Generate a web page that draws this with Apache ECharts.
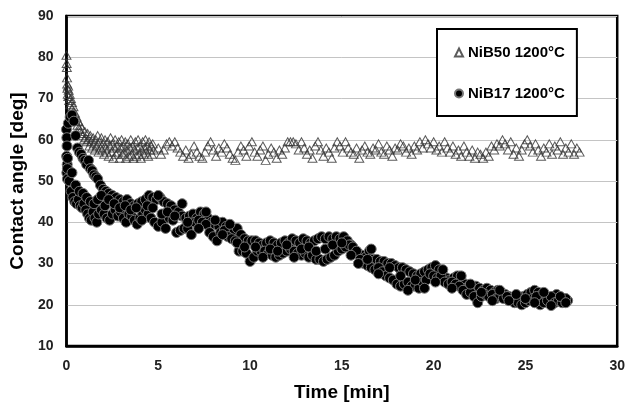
<!DOCTYPE html>
<html>
<head>
<meta charset="utf-8">
<script src="https://cdn.jsdelivr.net/npm/echarts@6/dist/echarts.min.js"></script>
<style>
html,body{margin:0;padding:0;background:#fff;}
#chart{width:628px;height:407px;}
</style>
</head>
<body>
<div id="chart"></div>
<script>
// Series names
const seriesNames = ['NiB50 1200°C', 'NiB17 1200°C'];

// Axis settings
const xAxisTitle = 'Time [min]';
const yAxisTitle = 'Contact angle [deg]';
const xRange = [0, 30, 5];
const yRange = [10, 90, 10];

// NiB50 1200°C: [time (min), contact angle (deg)]
const nib50 = [
[0.00,80.5],[0.01,78.5],[0.02,77.5],[0.03,75],[0.04,73.5],[0.05,72.5],[0.07,71],[0.09,73],[0.10,70.5],[0.12,72],
[0.15,69.5],[0.18,71],[0.20,68.5],[0.24,70],[0.28,67.5],[0.30,69],[0.34,66.5],[0.38,68],[0.42,65.5],[0.46,66.5],
[0.50,64.5],[0.55,65.5],[0.60,63.5],[0.65,64.5],[0.70,62.5],[0.75,63.5],[0.80,61.5],[0.85,62.8],[0.90,61],[0.95,60],
[1.00,62],[1.05,60.5],[1.10,59.5],[1.15,61.5],[1.20,60],[1.25,58.5],[1.30,61],[1.35,59.5],[1.40,58],[1.45,60.5],
[1.50,59],[1.55,57.5],[1.60,60],[1.65,58.5],[1.70,61],[1.75,57],[1.80,59.5],[1.85,58],[1.90,60.5],[1.95,57.5],
[2.00,59],[2.05,56.5],[2.10,60],[2.15,58],[2.20,57],[2.25,59.5],[2.30,56],[2.35,58.5],[2.40,60.5],[2.45,57],
[2.50,59],[2.55,55.5],[2.60,58],[2.65,60],[2.70,56.5],[2.75,58.5],[2.80,57],[2.85,59.5],[2.90,55.5],[2.95,58],
[3.00,60],[3.05,56.5],[3.10,58.5],[3.15,57],[3.20,59.5],[3.25,55.5],[3.30,57.5],[3.35,59],[3.40,56],[3.45,58],
[3.50,60],[3.55,56.5],[3.60,58.5],[3.65,55.5],[3.70,57.5],[3.75,59.5],[3.80,56],[3.85,58],[3.90,60],[3.95,56.5],
[4.00,58.5],[4.05,55.5],[4.10,57.5],[4.15,59.5],[4.20,56.5],[4.25,58],[4.30,60],[4.35,57],[4.40,58.5],[4.45,56],
[4.50,59.5],[4.55,57.5],[4.60,58.5],[4.65,56.5],[4.70,59],[4.75,57.5],
[5.00,58],[5.15,56.5],[5.30,57.5],[5.45,59],[5.60,59.5],[5.75,58.5],[5.90,59.5],[6.05,58],[6.20,57],[6.35,56],
[6.50,57.5],[6.65,55.5],[6.80,56.5],[6.95,58.5],[7.10,57],[7.25,56],[7.40,55.5],[7.55,57],[7.70,58.5],[7.85,59.5],
[8.00,57.5],[8.15,56],[8.30,58],[8.45,57],[8.60,59],[8.75,58],[8.90,56.5],[9.05,55.5],[9.20,55],[9.35,57],
[9.50,58.5],[9.65,57.5],[9.80,56],[9.95,58.5],[10.10,59.5],[10.25,57],[10.40,56],[10.55,57.5],[10.70,58.5],[10.85,55],
[11.00,56.5],[11.15,58],[11.30,57],[11.45,55.5],[11.60,57.5],[11.75,56.5],[11.90,58],[12.05,59.5],[12.20,59.5],[12.35,59.5],
[12.50,59],[12.65,57.5],[12.80,59.5],[12.95,58],[13.10,56.5],[13.25,57.5],[13.40,55.5],[13.55,58.5],[13.70,59.5],[13.85,57.5],
[14.00,56],[14.15,58],[14.30,57],[14.45,55.5],[14.60,58],[14.75,59.5],[14.90,58.5],[15.05,57],[15.20,59.5],[15.35,58],
[15.50,57],[15.65,56.5],[15.80,58],[15.95,55.5],[16.10,57.5],[16.25,58.5],[16.40,57],[16.55,56.5],[16.70,58],[16.85,57.5],
[17.00,59],[17.15,57],[17.30,56.5],[17.45,58.5],[17.60,57.5],[17.75,56],[17.90,58],[18.05,57.5],[18.20,59],[18.35,58.5],
[18.50,57],[18.65,58],[18.80,56.5],[18.95,58.5],[19.10,57.5],[19.25,59.5],[19.40,58],[19.55,60],[19.70,59],[19.85,58],
[20.00,59.5],[20.15,57.5],[20.30,58.5],[20.45,57],[20.60,59.5],[20.75,58],[20.90,57],[21.05,58.5],[21.20,56.5],[21.35,57.5],
[21.50,56],[21.65,58.5],[21.80,57],[21.95,56],[22.10,57.5],[22.25,55.5],[22.40,57],[22.55,56.5],[22.70,55.5],[22.85,57],
[23.00,56],[23.15,58.5],[23.30,57.5],[23.45,59],[23.60,58.5],[23.75,60],[23.90,59],[24.05,57.5],[24.20,59.5],[24.35,56.5],
[24.50,58],[24.65,56],[24.80,57.5],[24.95,59],[25.10,60],[25.25,58.5],[25.40,57],[25.55,59],[25.70,57.5],[25.85,56],
[26.00,58],[26.15,57],[26.30,59],[26.45,56.5],[26.60,58.5],[26.75,57.5],[26.90,59.5],[27.05,56.5],[27.20,58],[27.35,57],
[27.50,59],[27.65,56.5],[27.80,58],[27.95,57]
];

// NiB17 1200°C: [time (min), contact angle (deg)]
const nib17 = [
[0.00,62.5],[0.02,60.5],[0.03,58.5],[0.01,56],[0.04,54],[0.02,52],[0.05,50.5],[0.06,55.5],
[0.10,64],[0.20,65.5],[0.30,66],[0.40,64.5],[0.50,61],[0.60,58],[0.70,57],[0.80,56.5],[0.90,55.5],[1.00,55],
[1.10,54],[1.20,55],[1.30,53],[1.40,52.5],[1.50,51.5],[1.60,51],[1.70,50.5],[1.85,49],[2.00,48],[2.15,47.5],
[2.30,47],[2.50,46.5],[2.70,46],[2.90,45.5],[3.10,45],[3.30,45.5],[3.50,44.5],[3.70,44],[3.90,44.5],[4.10,45],
[4.30,45.5],[4.50,46.5],[4.70,46],[4.90,45.5],[5.10,46],[5.30,45],[5.50,44.5],[5.70,44],[5.90,43],[6.10,42.5],
[6.30,41.5],[6.50,41],[6.70,41.5],[6.90,42],[7.10,41],[7.30,42.5],[7.50,42],[7.70,41],[7.90,40],[8.10,39.5],
[8.30,39],[8.50,40],[8.70,39],[8.90,38.5],[9.10,38],[9.30,38.5],[9.50,37],[9.70,36],[9.90,35.5],[10.10,35.5],
[10.30,35.5],[10.50,35],[10.70,34.5],[10.90,35],[11.10,35.5],[11.30,35],[11.50,34.5],[11.70,35],[11.90,35.5],[12.10,35],
[12.30,36],[12.50,35.5],[12.70,35],[12.90,36],[13.10,35.5],[13.30,35],[13.50,35.5],[13.70,36],[13.90,36.5],[14.10,36],
[14.30,36.5],[14.50,36],[14.70,36.5],[14.90,36],[15.10,36.5],[15.30,35.5],[15.50,34.5],[15.70,33],[15.90,32.5],[16.10,32],
[16.30,31.5],[16.50,33],[16.70,31],[16.90,31],[17.10,30.5],[17.30,30.5],[17.50,30],[17.70,30],[17.90,29.5],[18.10,29],
[18.30,29],[18.50,28.5],[18.70,28],[18.90,27.5],[19.10,27],[19.30,27.5],[19.50,28],[19.70,28.5],[19.90,29],[20.10,29.5],
[20.30,28.5],[20.50,27],[20.70,26.5],[20.90,26],[21.10,26.5],[21.30,27],[21.50,26],[21.70,25],[21.90,24.5],[22.10,24],
[22.30,24.5],[22.50,24],[22.70,23.5],[22.90,24],[23.10,23.5],[23.30,23],[23.50,23.5],[23.70,23],[23.90,22.5],[24.10,22],
[24.30,21.5],[24.50,21],[24.70,21.5],[24.90,22],[25.10,22.5],[25.30,23],[25.50,23.5],[25.70,23],[25.90,22.5],[26.10,22],
[26.30,21.5],[26.50,22],[26.70,22.5],[26.90,21.5],[27.10,21],[27.30,21],
[0.05,53],[0.15,50],[0.25,47.5],[0.35,46],[0.45,45],[0.55,44.5],[0.65,45.5],[0.75,44],[0.85,43.5],[0.95,44.5],
[1.05,43],[1.15,42],[1.25,41],[1.35,40.5],[1.45,42.5],[1.55,41],[1.65,40],[1.75,42],[1.90,43],[2.05,42],
[2.20,41],[2.35,40.5],[2.50,42],[2.65,43],[2.80,41.5],[2.95,42.5],[3.10,41],[3.25,40],[3.40,42],[3.55,41.5],
[3.70,40.5],[3.85,39.5],[4.00,41],[4.15,42],[4.30,43],[4.45,42],[4.60,41],[4.80,40],[5.00,39],[5.20,40],
[5.40,38.5],[5.60,41],[5.80,40.5],[6.00,37.5],[6.20,38],[6.40,38.5],[6.60,38.5],[6.80,37],[7.00,40],[7.20,40.5],
[7.40,40],[7.60,39.5],[7.80,37.5],[8.00,36.5],[8.20,35.5],[8.40,37.5],[8.60,38],[8.80,36.5],[9.00,36],[9.20,35.5],
[9.40,33],[9.60,33],[9.80,32.5],[10.00,30.5],[10.20,31.5],[10.40,33],[10.60,33],[10.80,33],[11.00,32.5],[11.20,32],
[11.40,31.5],[11.60,32],[11.80,32.5],[12.00,33],[12.20,33.5],[12.40,33],[12.60,32.5],[12.80,32],[13.00,32.5],[13.20,31.5],
[13.40,32],[13.60,31],[13.80,31],[14.00,30.5],[14.20,31],[14.40,31.5],[14.60,32],[14.80,33],[15.00,33.5],[15.20,34],
[15.40,34.5],[15.60,34],[15.80,33],[16.00,31],[16.20,30],[16.40,29.5],[16.60,29],[16.80,28.5],[17.00,29],[17.20,28],
[17.40,27],[17.60,26.5],[17.80,26],[18.00,25],[18.20,24.5],[18.40,25],[18.60,25.5],[18.80,24.5],[19.00,24.5],[19.20,24],
[19.40,25.5],[19.60,26],[19.80,27.5],[20.00,27],[20.20,26.5],[20.40,27],[20.60,25.5],[20.80,25],[21.00,25.5],[21.20,25],
[21.40,24.5],[21.60,23.5],[21.80,22.5],[22.00,23],[22.20,22],[22.40,20.5],[22.60,22],[22.80,22.5],[23.00,22],[23.20,22.5],
[23.40,21.5],[23.60,22],[23.80,21.5],[24.00,22],[24.20,21],[24.40,20.5],[24.60,20.5],[24.80,20],[25.00,20.5],[25.20,21],
[25.40,21.5],[25.60,22],[25.80,20],[26.00,20.5],[26.20,21],[26.40,22],[26.60,20.5],[26.80,21],[27.00,20.5],[27.20,21.5],
[0.30,52],[0.50,49],[0.70,47.5],[0.90,47],[1.10,46],[1.30,45],[1.50,44.5],[1.70,45.5],[1.90,46.5],[2.10,44],
[2.30,45.5],[2.60,44.5],[2.90,43.5],[3.20,44],[3.50,43],[3.80,43.5],[4.10,40.5],[4.40,44],[4.70,43.5],[5.00,46.5],
[5.20,42],[5.50,42.5],[5.90,41.5],[6.30,44.5],[6.60,40],[7.20,38.5],[7.60,42.5],[8.10,40.5],[8.50,37],[8.90,39.5],
[9.30,35],[9.70,34],[10.30,34],[10.70,31.5],[11.10,33.5],[11.50,33],[12.00,34.5],[12.40,31.5],[12.80,33.5],[13.20,34],
[13.60,33],[14.10,33.5],[14.50,34.5],[15.00,35],[15.50,32],[15.90,30],[16.40,31],[16.60,33.5],[17.00,27.5],[17.60,29],
[18.20,27],[18.60,23.5],[19.00,26],[19.50,24],[20.10,25.5],[20.50,28.5],[21.00,24],[21.50,27],[22.00,25],[22.60,23],
[23.20,21],[23.60,23.5],[24.10,21],[24.50,22.5],[25.00,21.5],[25.50,20.5],[26.00,23],[26.40,19.8],[26.90,22],[27.20,20.5]
];

const FONT = '"Liberation Sans", Arial, sans-serif';
const chart = echarts.init(document.getElementById('chart'), null, {renderer: 'canvas'});
chart.setOption({
  animation: false,
  backgroundColor: '#fff',
  grid: {left: 65, top: 16, right: 8, bottom: 59, show: true, borderColor: '#000', borderWidth: 2.5, backgroundColor: 'transparent'},
  legend: {
    orient: 'vertical',
    left: 437, top: 29,
    backgroundColor: '#fff',
    borderColor: '#000', borderWidth: 2,
    padding: [16, 12, 15, 17],
    itemGap: 26,
    itemWidth: 8, itemHeight: 8,
    textStyle: {fontFamily: FONT, fontWeight: 'bold', fontSize: 15, color: '#000'},
    data: seriesNames
  },
  xAxis: {
    type: 'value', min: xRange[0], max: xRange[1], interval: xRange[2],
    name: xAxisTitle, nameLocation: 'middle', nameGap: 37,
    nameTextStyle: {fontFamily: FONT, fontWeight: 'bold', fontSize: 19, color: '#000'},
    axisLine: {show: true, lineStyle: {color: '#000', width: 2.5}},
    axisTick: {show: false},
    splitLine: {show: false},
    axisLabel: {fontFamily: FONT, fontWeight: 'bold', fontSize: 14, color: '#222', margin: 13}
  },
  yAxis: {
    type: 'value', min: yRange[0], max: yRange[1], interval: yRange[2],
    name: yAxisTitle, nameLocation: 'middle', nameGap: 38,
    nameTextStyle: {fontFamily: FONT, fontWeight: 'bold', fontSize: 19, color: '#000'},
    axisLine: {show: true, lineStyle: {color: '#000', width: 2.5}},
    axisTick: {show: false},
    splitLine: {show: true, lineStyle: {color: '#c4c4c4', width: 1}},
    axisLabel: {fontFamily: FONT, fontWeight: 'bold', fontSize: 14, color: '#222', margin: 13}
  },
  series: [
    {
      name: seriesNames[0], type: 'scatter', data: nib50,
      symbol: 'triangle', symbolSize: [9, 8],
      itemStyle: {color: 'rgba(255,255,255,0)', borderColor: '#333', borderWidth: 1}
    },
    {
      name: seriesNames[1], type: 'scatter', data: nib17,
      symbol: 'circle', symbolSize: 10,
      itemStyle: {color: '#000', borderColor: '#777', borderWidth: 1, opacity: 1}
    }
  ]
});
</script>
</body>
</html>
